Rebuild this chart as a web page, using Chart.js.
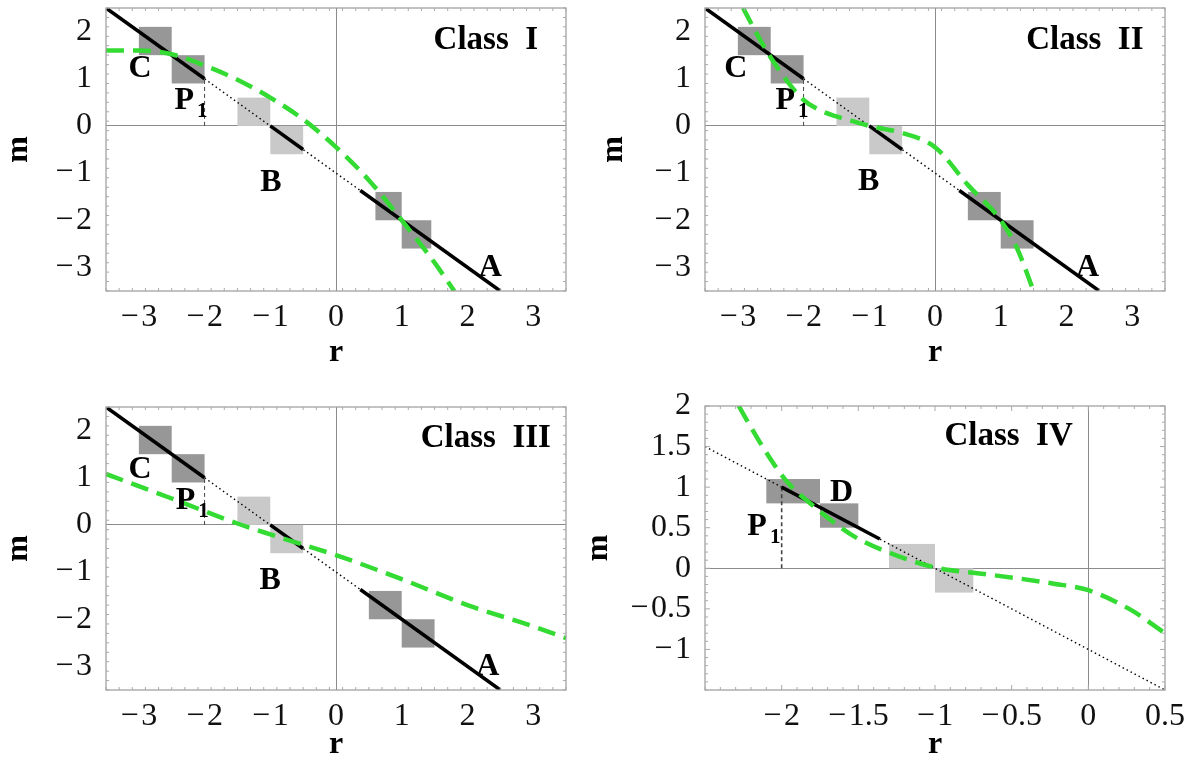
<!DOCTYPE html>
<html>
<head>
<meta charset="utf-8">
<script src="https://cdn.jsdelivr.net/npm/chart.js@4/dist/chart.umd.min.js"></script>
<style>
  html, body { margin: 0; padding: 0; background: #fff; overflow: hidden; }
  #wrap { position: relative; width: 1195px; height: 764px; overflow: hidden; }
  #wrap canvas { position: absolute; left: 0; top: -40px; }
</style>
</head>
<body>
<div id="wrap">
  <canvas id="c1" width="1195" height="804"></canvas>
  <canvas id="c2" width="1195" height="804"></canvas>
  <canvas id="c3" width="1195" height="804"></canvas>
  <canvas id="c4" width="1195" height="804"></canvas>
</div>
<script>
// tick labels
const ticksR = [-3, -2, -1, 0, 1, 2, 3];
const ticksM = [-3, -2, -1, 0, 1, 2];
const ticksR4 = [-2, -1.5, -1, -0.5, 0, 0.5];
const ticksM4 = [-1, -0.5, 0, 0.5, 1, 1.5, 2];

// green dashed curves (r, m)
const g1R = [-3.5, -3.0, -2.5, -2.0, -1.5, -1.0, -0.5, 0, 0.5, 1.0, 1.5, 1.8];
const g1M = [1.6, 1.6, 1.52, 1.28, 0.98, 0.6, 0.14, -0.45, -1.15, -2.0, -2.9, -3.5];
const g2R = [-2.92, -2.75, -2.5, -2.25, -2.0, -1.75, -1.5, -1.25, -1.0, -0.5, 0, 0.5, 1.0, 1.25, 1.5];
const g2M = [2.5, 2.05, 1.45, 0.95, 0.55, 0.33, 0.2, 0.1, 0.0, -0.15, -0.45, -1.25, -2.0, -2.6, -3.5];
const g3R = [-3.5, -2.5, -1.5, -1.0, -0.5, 0, 1, 2, 3, 3.5];
const g3M = [1.08, 0.56, 0.03, -0.2, -0.42, -0.64, -1.15, -1.7, -2.15, -2.4];
const g4R = [-2.28, -2.125, -1.975, -1.775, -1.525, -1.225, -0.975, -0.725, -0.475, -0.225, 0, 0.275, 0.5];
const g4M = [2.0, 1.5, 1.09, 0.74, 0.39, 0.14, 0.0, -0.06, -0.12, -0.19, -0.27, -0.51, -0.8];

// black solid pieces [r1, m1, r2, m2]
const solidC = [-3.5, 2.5, -2, 1];
const solidB = [-1, 0, -0.5, -0.5];
const solidA = [0.37, -1.37, 2.5, -3.5];
const solidD = [-2, 1, -1.36, 0.36];

// dotted line, P1 marker line
const dotted13 = [-3.5, 2.5, 2.5, -3.5];
const dotted4 = [-2.5, 1.5, 0.5, -1.5];
const p1Line = [-2, 0, -2, 1];

// shaded boxes [r1, r2, m1, m2]
const dark1 = [[-3, -2.5, 1.5, 2.1], [-2.5, -2, 0.9, 1.5], [0.6, 1, -2, -1.4], [1, 1.45, -2.6, -2]];
const dark23 = [[-3, -2.5, 1.5, 2.1], [-2.5, -2, 0.9, 1.5], [0.5, 1, -2, -1.4], [1, 1.5, -2.6, -2]];
const light13 = [[-1.5, -1, 0, 0.6], [-1, -0.5, -0.6, 0]];
const dark4 = [[-2.1, -1.75, 0.8, 1.1], [-1.75, -1.5, 0.5, 0.8]];
const light4 = [[-1.3, -1, 0, 0.3], [-1, -0.75, -0.3, 0]];

const GREEN = "#33db33";
const SERIF = "'Liberation Serif', 'Times New Roman', serif";
const SHIFT = 40; // canvases sit 40px above the page top

function pts(rs, ms) { return rs.map((r, i) => ({ x: r, y: ms[i] })); }
function seg(s) { return [{ x: s[0], y: s[1] }, { x: s[2], y: s[3] }]; }

function fmt(v) {
  return v < 0 ? "\u2212\u200A" + String(-v) : String(v);
}

function greenSet(data) {
  return { data, borderColor: GREEN, borderWidth: 4.5, borderDash: [18, 9], pointRadius: 0,
    cubicInterpolationMode: "monotone", fill: false, clip: 0, order: 0 };
}
function solidSet(s) {
  return { data: seg(s), borderColor: "#000", borderWidth: 3.5, pointRadius: 0, fill: false, clip: 0, order: 1 };
}
function dottedSet(s) {
  return { data: seg(s), borderColor: "#000", borderWidth: 1.4, borderDash: [1.5, 3], pointRadius: 0, fill: false, clip: 0, order: 3 };
}
function p1Set(s, w) {
  return { data: seg(s), borderColor: "#444", borderWidth: w, borderDash: [4, 3], pointRadius: 0, fill: false, clip: 0, order: 2 };
}

// shading, frame, inner ticks and text labels
function panelPlugin(p) {
  return {
    id: "panel",
    beforeDatasetsDraw(chart) {
      const { ctx, chartArea: a, scales: { x, y } } = chart;
      ctx.save();
      ctx.beginPath();
      ctx.rect(a.left, a.top, a.right - a.left, a.bottom - a.top);
      ctx.clip();
      const fillBoxes = (list, col) => {
        ctx.fillStyle = col;
        list.forEach(b => {
          const x1 = x.getPixelForValue(b[0]), x2 = x.getPixelForValue(b[1]);
          const y1 = y.getPixelForValue(b[2]), y2 = y.getPixelForValue(b[3]);
          ctx.fillRect(Math.min(x1, x2), Math.min(y1, y2), Math.abs(x2 - x1), Math.abs(y2 - y1));
        });
      };
      fillBoxes(p.light, "#c9c9c9");
      fillBoxes(p.dark, "#979797");
      ctx.restore();
    },
    afterDatasetsDraw(chart) {
      const { ctx, chartArea: a, scales: { x, y } } = chart;
      ctx.save();
      ctx.strokeStyle = "#9a9a9a";
      ctx.lineWidth = 1.2;
      ctx.strokeRect(a.left, a.top, a.right - a.left, a.bottom - a.top);
      // frame ticks
      ctx.strokeStyle = "#aaa";
      ctx.lineWidth = 1;
      ctx.beginPath();
      for (let v = p.xMin; v <= p.xMax + 1e-9; v += p.minor) {
        const major = p.xTicks.some(t => Math.abs(t - v) < 1e-6);
        const L = major ? 5 : 3, px = x.getPixelForValue(v);
        ctx.moveTo(px, a.bottom); ctx.lineTo(px, a.bottom - L);
        ctx.moveTo(px, a.top); ctx.lineTo(px, a.top + L);
      }
      for (let v = p.yMin; v <= p.yMax + 1e-9; v += p.minor) {
        const major = p.yTicks.some(t => Math.abs(t - v) < 1e-6);
        const L = major ? 5 : 3, py = y.getPixelForValue(v);
        ctx.moveTo(a.left, py); ctx.lineTo(a.left + L, py);
        ctx.moveTo(a.right, py); ctx.lineTo(a.right - L, py);
      }
      ctx.stroke();
      ctx.restore();
    },
    afterDraw(chart) {
      const { ctx, scales: { x, y } } = chart;
      ctx.save();
      ctx.fillStyle = "#000";
      ctx.textAlign = "center";
      ctx.textBaseline = "middle";
      p.labels.forEach(l => {
        const px = x.getPixelForValue(l.r), py = y.getPixelForValue(l.m);
        ctx.font = "bold " + (l.size || 32) + "px " + SERIF;
        ctx.fillText(l.t, px, py);
        if (l.sub) {
          ctx.font = "bold 21px " + SERIF;
          ctx.fillText(l.sub, px + 18, py + 11);
        }
      });
      ctx.restore();
    }
  };
}

function build(id, p) {
  const b = p.box;
  const tickFont = { family: SERIF, size: 32 };
  const titleFont = { family: SERIF, size: 32, weight: "bold" };
  const zeroGrid = {
    display: true, drawTicks: false, lineWidth: 1,
    color: c => (c.tick && c.tick.value === 0 ? "#8c8c8c" : "rgba(0,0,0,0)")
  };
  return new Chart(document.getElementById(id), {
    type: "line",
    data: { datasets: p.datasets },
    options: {
      responsive: false,
      animation: false,
      events: [],
      layout: {
        autoPadding: false,
        padding: { left: b.left - b.yw, top: b.top + SHIFT, right: 1195 - b.right, bottom: 764 - b.bottom - b.xh }
      },
      plugins: { legend: { display: false }, tooltip: { enabled: false } },
      scales: {
        x: {
          type: "linear", min: p.xMin, max: p.xMax,
          afterBuildTicks: s => { s.ticks = p.xTicks.map(v => ({ value: v })); },
          afterFit: s => { s.height = b.xh; },
          grid: zeroGrid, border: { display: false },
          ticks: { font: tickFont, color: "#111", padding: 7, maxRotation: 0, autoSkip: false, callback: v => fmt(v) },
          title: { display: true, text: "r", font: titleFont, color: "#000", padding: 0 }
        },
        y: {
          type: "linear", min: p.yMin, max: p.yMax,
          afterBuildTicks: s => { s.ticks = p.yTicks.map(v => ({ value: v })); },
          afterFit: s => { s.width = b.yw; },
          grid: zeroGrid, border: { display: false },
          ticks: { font: tickFont, color: "#111", padding: 14, autoSkip: false, callback: v => fmt(v) },
          title: { display: true, text: "m", font: titleFont, color: "#000", padding: 0 }
        }
      }
    },
    plugins: [panelPlugin(p)]
  });
}

build("c1", {
  box: { left: 106, top: 8, right: 566, bottom: 291, yw: 106, xh: 81 },
  xMin: -3.5, xMax: 3.5, yMin: -3.5, yMax: 2.5, minor: 0.2,
  xTicks: ticksR, yTicks: ticksM,
  dark: dark1, light: light13,
  datasets: [greenSet(pts(g1R, g1M)), solidSet(solidC), solidSet(solidB), solidSet(solidA),
    p1Set(p1Line, 1), dottedSet(dotted13)],
  labels: [
    { t: "Class\u2002I", r: 2.28, m: 1.81, size: 33 },
    { t: "C", r: -2.98, m: 1.21 }, { t: "P", r: -2.31, m: 0.54, sub: "1" },
    { t: "B", r: -0.99, m: -1.2 }, { t: "A", r: 2.35, m: -3.0 }
  ]
});

build("c2", {
  box: { left: 705, top: 8, right: 1165, bottom: 291, yw: 110, xh: 81 },
  xMin: -3.5, xMax: 3.5, yMin: -3.5, yMax: 2.5, minor: 0.2,
  xTicks: ticksR, yTicks: ticksM,
  dark: dark23, light: light13,
  datasets: [greenSet(pts(g2R, g2M)), solidSet(solidC), solidSet(solidB), solidSet(solidA),
    p1Set(p1Line, 1), dottedSet(dotted13)],
  labels: [
    { t: "Class\u2002II", r: 2.28, m: 1.81, size: 33 },
    { t: "C", r: -3.03, m: 1.21 }, { t: "P", r: -2.28, m: 0.54, sub: "1" },
    { t: "B", r: -1.01, m: -1.18 }, { t: "A", r: 2.32, m: -3.0 }
  ]
});

build("c3", {
  box: { left: 106, top: 407, right: 566, bottom: 690, yw: 106, xh: 74 },
  xMin: -3.5, xMax: 3.5, yMin: -3.5, yMax: 2.5, minor: 0.2,
  xTicks: ticksR, yTicks: ticksM,
  dark: dark23, light: light13,
  datasets: [greenSet(pts(g3R, g3M)), solidSet(solidC), solidSet(solidB), solidSet(solidA),
    p1Set(p1Line, 1), dottedSet(dotted13)],
  labels: [
    { t: "Class\u2002III", r: 2.28, m: 1.84, size: 33 },
    { t: "C", r: -2.98, m: 1.18 }, { t: "P", r: -2.29, m: 0.51, sub: "1" },
    { t: "B", r: -1.0, m: -1.18 }, { t: "A", r: 2.31, m: -3.0 }
  ]
});

build("c4", {
  box: { left: 705, top: 406, right: 1165, bottom: 690, yw: 125, xh: 74 },
  xMin: -2.5, xMax: 0.5, yMin: -1.5, yMax: 2, minor: 0.1,
  xTicks: ticksR4, yTicks: ticksM4,
  dark: dark4, light: light4,
  datasets: [greenSet(pts(g4R, g4M)), solidSet(solidD), p1Set(p1Line, 1.6), dottedSet(dotted4)],
  labels: [
    { t: "Class\u2002IV", r: -0.52, m: 1.62, size: 33 },
    { t: "D", r: -1.61, m: 0.93 }, { t: "P", r: -2.16, m: 0.51, sub: "1" }
  ]
});
</script>
</body>
</html>
